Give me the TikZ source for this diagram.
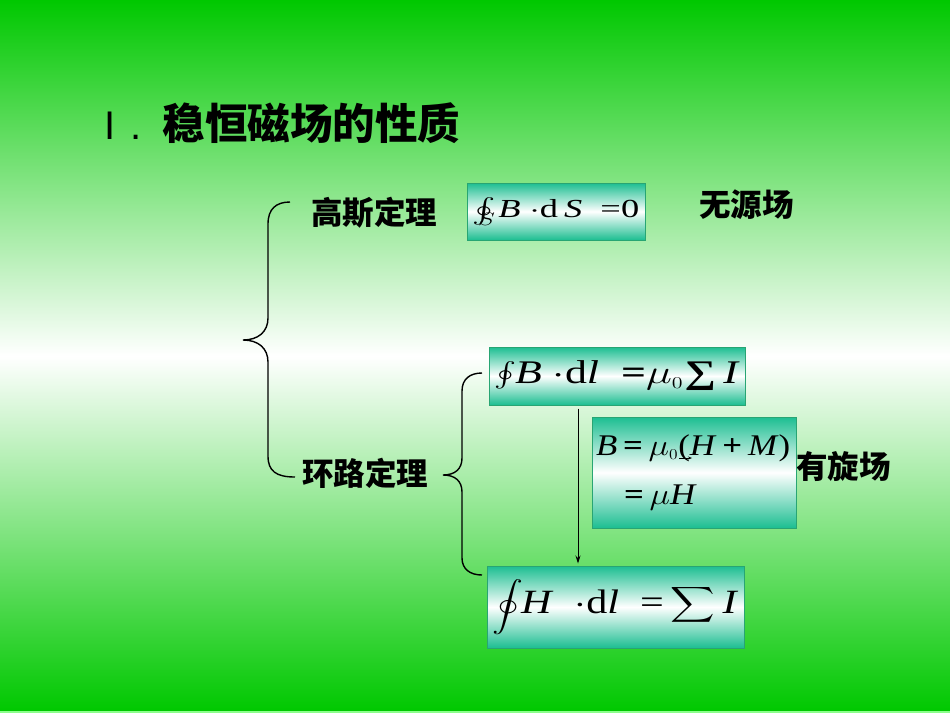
\RequirePackage{fix-cm}
\documentclass[tikz,border=0pt]{standalone}
\usepackage{exscale}
\usepackage{graphicx}
\usepackage{fontspec}
\setmainfont{Liberation Serif}
\newfontfamily\cjk{Noto Sans CJK SC}
\newfontfamily\lsans{Liberation Sans}
\usetikzlibrary{arrows.meta}
\definecolor{bggreen}{RGB}{0,200,0}
\definecolor{boxteal}{RGB}{28,190,145}
\definecolor{boxedge}{RGB}{40,165,115}
\newcommand\fs[1]{\fontsize{#1}{#1}\selectfont}
\begin{document}
\begin{tikzpicture}[x=1pt,y=-1pt,
  eqbox/.style={draw=boxedge,line width=1pt,top color=boxteal,bottom color=boxteal,middle color=white,inner sep=0pt},
  lbl/.style={anchor=west,inner sep=0pt,font=\cjk\bfseries\fs{31.5}},
  bracepath/.style={line width=1.4pt,black},
  conn/.style={line width=0.8pt,-{Stealth[length=8pt,width=5pt]}}]
% background
\shade[top color=bggreen,bottom color=white] (0,0) rectangle (950,356);
\shade[top color=white,bottom color=bggreen] (0,356) rectangle (950,711);
\fill[green!45!white] (0,711) rectangle (950,713);
\useasboundingbox (0,0) rectangle (950,713);
% title
\node[anchor=west,inner sep=0pt] (title) at (104,123) {{\lsans\fs{40}I\hspace{0.38em}.}\hspace{21pt}{\cjk\bfseries\fs{42.5}稳恒磁场的性质}};
% labels
\node[lbl] (gauss) at (311,213) {高斯定理};
\node[lbl] (loop) at (302,473) {环路定理};
\node[lbl] (wuyuan) at (699,205) {无源场};
\node[lbl] (youxuan) at (796,467) {有旋场};
% boxes
\node[eqbox,minimum width=178pt,minimum height=57pt] (b1) at (556,211.5) {\fs{26}\scalebox{1.4}[1]{$\oint_{\kern-8pt S}$\kern2pt\textit{B}\ $\cdot$d\,\textit{S}\ \ =0}};
\node[eqbox,minimum width=256pt,minimum height=58pt] (b2) at (617,376) {\fs{33}\scalebox{1.33}[1]{$\oint$\kern-1pt\textit{B}\ $\cdot$d\textit{l}\ \ \textbf{=}$\mu_{\scriptscriptstyle 0}$\kern1pt{\bfseries ∑}\,\textit{I}}};
\node[eqbox,minimum width=204pt,minimum height=111pt,text width=196pt,inner xsep=4pt,align=left] (b3) at (694,472.5) {\fs{30}\scalebox{1.16}[1]{\textit{B}\,\textbf{=}\,$\mu_{\scriptscriptstyle 0}$(\textit{H}\,\textbf{+}\,\textit{M})}\\[22pt]\fs{30}\hspace{28pt}\scalebox{1.16}[1]{\textbf{=}\,$\mu$\textit{H}}};
\node[eqbox,minimum width=257pt,minimum height=82pt] (b4) at (615.5,607) {\fs{34}\scalebox{1.24}[1]{{\fs{27}$\displaystyle\oint$}\kern-2pt\textit{H}\ \ $\cdot$d\textit{l}\ \ =\,$\displaystyle\sum$\,\textit{I}}};
% braces
\draw[bracepath] (290,202) .. controls (276,202) and (268,209) .. (268,224) -- (268,318) .. controls (268,332) and (258,340) .. (243,340) .. controls (258,340) and (268,348) .. (268,362) -- (268,456) .. controls (268,471) and (276,477) .. (295,477);
\draw[bracepath] (482,373) .. controls (470,373) and (462,379) .. (462,391) -- (462,458) .. controls (462,469) and (455,475) .. (443,475) .. controls (455,475) and (462,481) .. (462,492) -- (462,558) .. controls (462,569) and (470,575) .. (482,575);
% arrow
\coordinate (ax) at (578,0);
\draw[conn,shorten <=3pt,shorten >=2pt] (b2.south -| ax) -- (b4.north -| ax);
\coordinate (sa1) at (679,458);
\coordinate (sa2) at (692,458);
\draw[line width=0.6pt,-{Stealth[length=4pt,width=3pt]}] (sa1) -- (sa2);
\end{tikzpicture}
\end{document}
